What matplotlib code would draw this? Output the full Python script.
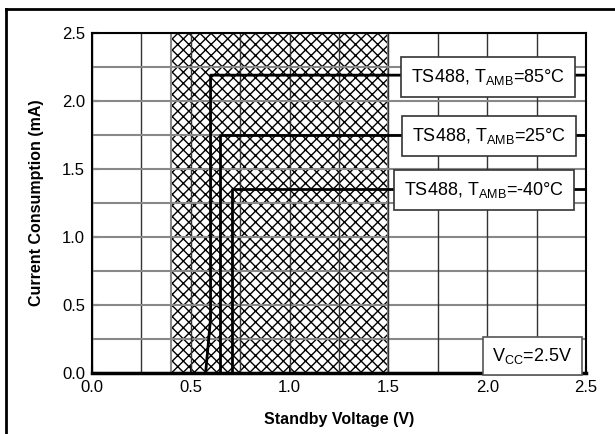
"""
Current consumption vs standby voltage for the TS488, three temperatures
"""

import matplotlib
matplotlib.use('Agg')
import matplotlib.pyplot as plt
from matplotlib.lines import Line2D

plt.rcParams['font.family'] = ['Liberation Sans', 'DejaVu Sans']
plt.rcParams['hatch.linewidth'] = 1.0
plt.rcParams['hatch.color'] = 'black'

# curve data (standby voltage V, current mA)
v_85 = [0.575, 0.60, 0.60, 2.5]
i_85 = [0.0, 0.40, 2.19, 2.19]
v_25 = [0.65, 0.65, 2.5]
i_25 = [0.0, 1.75, 1.75]
v_m40 = [0.71, 0.71, 2.5]
i_m40 = [0.0, 1.35, 1.35]

curve_labels = ['TS488, T$_{\\mathregular{AMB}}$=85°C',
                'TS488, T$_{\\mathregular{AMB}}$=25°C',
                'TS488, T$_{\\mathregular{AMB}}$=-40°C']
label_x = [2.005, 2.01, 1.985]
label_y = [2.175, 1.745, 1.345]

hatch_from, hatch_to = 0.4, 1.5
ticks = [0.0, 0.5, 1.0, 1.5, 2.0, 2.5]

fig = plt.figure(figsize=(6.15, 4.34), dpi=100)
ax = fig.add_axes([92 / 615, 61 / 434, 494 / 615, 340 / 434])

# outer frame of the figure (cut off on the right and bottom)
fig.add_artist(Line2D([6 / 615, 1.0], [1 - 9 / 434, 1 - 9 / 434],
                      transform=fig.transFigure, color='black', lw=2))
fig.add_artist(Line2D([6 / 615, 6 / 615], [0.0, 1 - 9 / 434],
                      transform=fig.transFigure, color='black', lw=2))

# shaded crosshatch band, black hatch with a grey outline
ax.axvspan(hatch_from, hatch_to, facecolor='white', edgecolor='black',
           hatch='xxx', lw=0, zorder=1)
ax.axvspan(hatch_from, hatch_to, facecolor='none', edgecolor='#888888',
           lw=1.5, zorder=2)

# grid every 0.25
minor = [k * 0.25 for k in range(11)]
for v in minor:
    ax.axvline(v, color='#333333', lw=1.0, zorder=2)
    ax.axhline(v, color='#888888', lw=1.5, zorder=2)

# curves
ax.plot(v_85, i_85, color='black', lw=2, zorder=3)
ax.plot(v_25, i_25, color='black', lw=2, zorder=3)
ax.plot(v_m40, i_m40, color='black', lw=2, zorder=3)

for txt, x, y in zip(curve_labels, label_x, label_y):
    ax.text(x, y, txt, ha='center', va='center', fontsize=13, zorder=5,
            bbox=dict(boxstyle='square,pad=0.55', fc='white', ec='#333333', lw=1.2))

ax.text(2.23, 0.125, 'V$_{\\mathregular{CC}}$=2.5V', ha='center', va='center',
        fontsize=13, zorder=5,
        bbox=dict(boxstyle='square,pad=0.5', fc='white', ec='#555555', lw=1.2))

ax.set_xlim(0, 2.5)
ax.set_ylim(0, 2.5)
ax.set_xticks(ticks)
ax.set_yticks(ticks)
ax.set_xticklabels(['%.1f' % t for t in ticks])
ax.set_yticklabels(['%.1f' % t for t in ticks])
ax.tick_params(direction='in', length=5, width=1.5, labelsize=12, pad=5,
               colors='black')

for s in ax.spines.values():
    s.set_linewidth(1.5)
    s.set_zorder(4)
ax.spines['bottom'].set_linewidth(2.5)

ax.set_xlabel('Standby Voltage (V)', fontsize=11.5, fontweight='bold', labelpad=12)
ax.set_ylabel('Current Consumption (mA)', fontsize=11.5, fontweight='bold', labelpad=13)

fig.savefig('out.png', dpi=100)
